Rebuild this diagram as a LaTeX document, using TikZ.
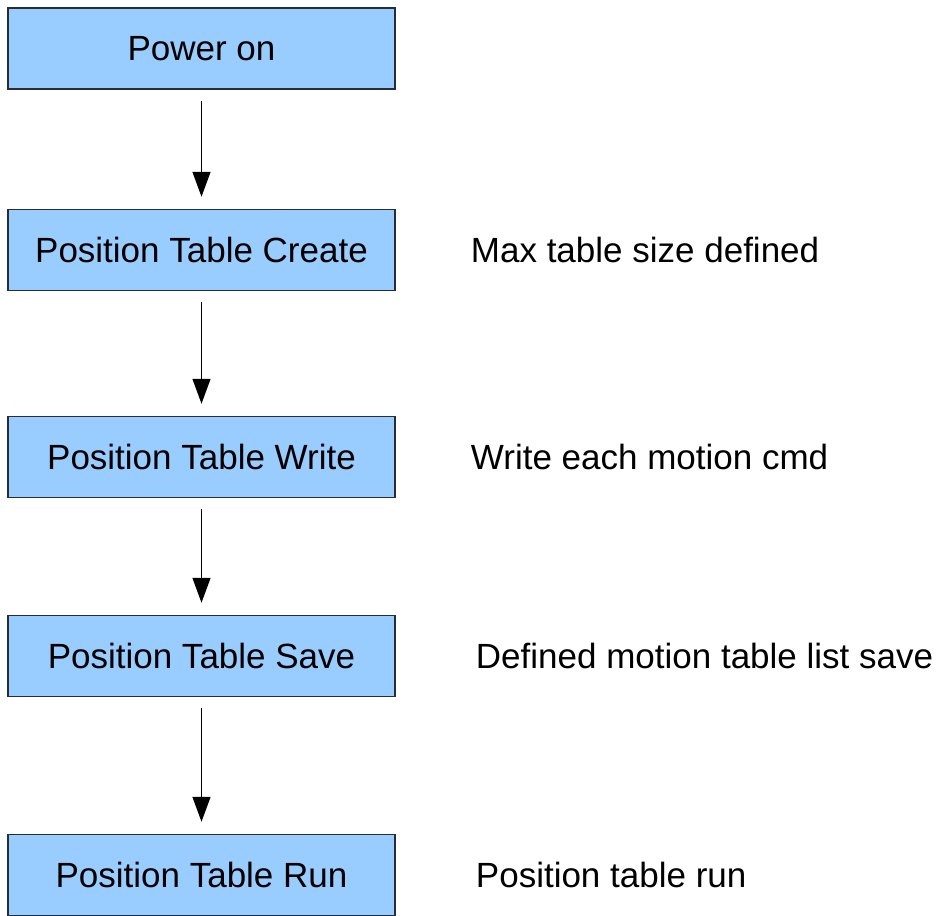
\documentclass[tikz,border=0pt]{standalone}
\usepackage{fontspec}
\setmainfont{Liberation Sans}
\usepackage{xcolor}
\usetikzlibrary{arrows.meta}
\usetikzlibrary{positioning}

\definecolor{boxblue}{RGB}{153,204,255}
\definecolor{boxline}{RGB}{40,44,52}

\begin{document}
\begin{tikzpicture}[x=1pt,y=-1pt,
    stepbox/.style={draw=boxline, line width=1.5pt, fill=boxblue,
      minimum width=387pt, minimum height=81pt, inner sep=0pt,
      font=\fontsize{35}{42}\selectfont},
    note/.style={inner sep=0pt, font=\fontsize{35}{42}\selectfont},
    flow/.style={-{Triangle[length=25pt,width=18pt]}, line width=1.5pt,
      shorten <=11pt, shorten >=12pt}]
      \useasboundingbox (0,0) rectangle (947,915);

      \node[stepbox] (on)     at (201.5,48.5) {Power on};
      \node[stepbox] (create) at (201.5,250)  {Position Table Create};
      \node[stepbox] (write)  at (201.5,457)  {Position Table Write};
      \node[stepbox] (save)   at (201.5,656)  {Position Table Save};
      \node[stepbox] (run)    at (201.5,875)  {Position Table Run};

      \node[note, right=75pt of create] (size)   {Max table size defined};
      \node[note, right=75pt of write]  (cmd)    {Write each motion cmd};
      \node[note, right=80pt of save]   (list)   {Defined motion table list save};
      \node[note, right=80pt of run]    (runit)  {Position table run};

      \path[flow] (on) edge (create);
      \path[flow] (create) edge (write);
      \path[flow] (write) edge (save);
      \path[flow] (save) edge (run);
    \end{tikzpicture}
\end{document}
